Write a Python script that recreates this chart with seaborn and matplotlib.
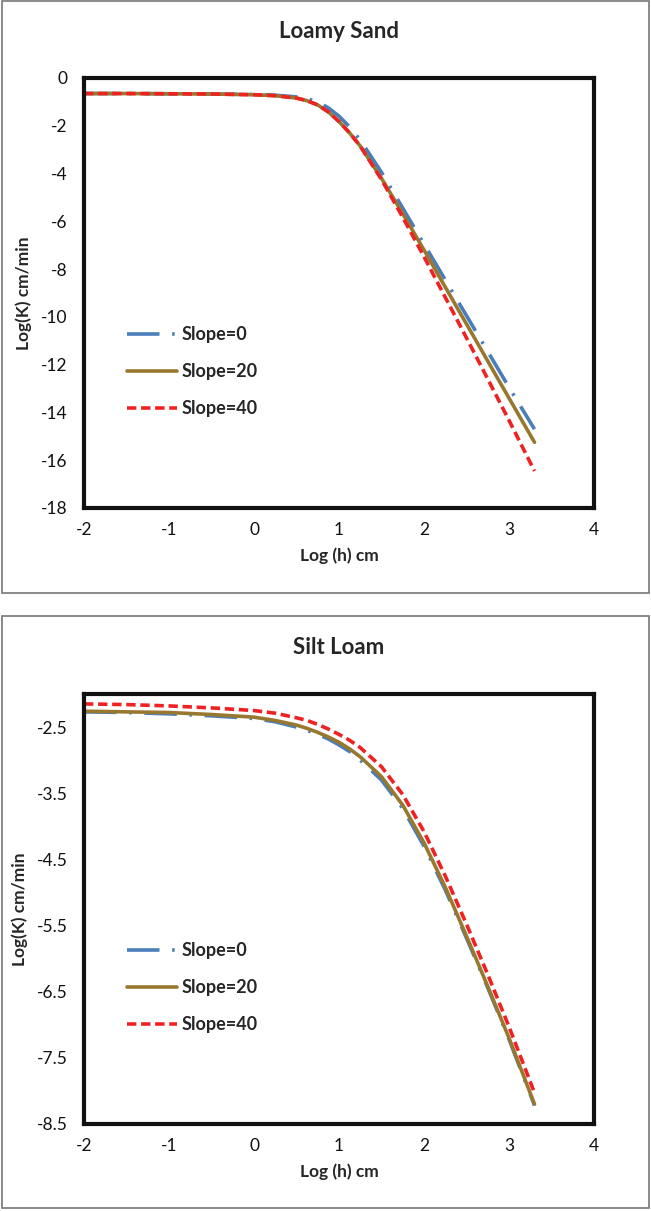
import numpy as np
import pandas as pd
import seaborn as sns
import matplotlib
matplotlib.use("Agg")
from matplotlib import pyplot as plt
from matplotlib.patches import Rectangle

# log(h) grid shared by both soils
log_h = [-2, -1.5, -1, -0.5, 0, 0.25, 0.5, 0.625, 0.75, 0.875, 1, 1.125, 1.25,
         1.5, 1.75, 2, 2.25, 2.5, 2.75, 3, 3.3]

# Loamy Sand, log(K) per slope
ls_slope0 = [-0.65, -0.65, -0.66, -0.67, -0.69, -0.72, -0.79, -0.87, -1.00, -1.25, -1.60, -2.05, -2.60,
             -3.95, -5.45, -6.95, -8.45, -9.95, -11.45, -12.95, -14.70]
ls_slope20 = [-0.65, -0.65, -0.66, -0.67, -0.70, -0.74, -0.84, -0.95, -1.13, -1.42, -1.82, -2.30, -2.85,
              -4.20, -5.68, -7.20, -8.75, -10.30, -11.85, -13.40, -15.25]
ls_slope40 = [-0.65, -0.65, -0.66, -0.67, -0.70, -0.74, -0.84, -0.95, -1.13, -1.42, -1.82, -2.30, -2.85,
              -4.25, -5.83, -7.48, -9.18, -10.88, -12.60, -14.33, -16.45]

# Silt Loam, log(K) per slope
sl_slope0 = [-2.27, -2.28, -2.30, -2.33, -2.37, -2.42, -2.50, -2.55, -2.61, -2.68, -2.77, -2.87, -3.00,
             -3.30, -3.73, -4.30, -4.96, -5.69, -6.44, -7.22, -8.22]
sl_slope20 = [-2.26, -2.27, -2.28, -2.31, -2.35, -2.40, -2.47, -2.52, -2.58, -2.65, -2.73, -2.83, -2.95,
              -3.25, -3.68, -4.25, -4.92, -5.66, -6.42, -7.20, -8.20]
sl_slope40 = [-2.15, -2.16, -2.18, -2.21, -2.25, -2.29, -2.36, -2.40, -2.46, -2.53, -2.61, -2.70, -2.81,
              -3.10, -3.52, -4.08, -4.75, -5.48, -6.24, -7.03, -8.03]

labels = ["Slope=0", "Slope=20", "Slope=40"]
colors = {"Slope=0": "#4A7EBB", "Slope=20": "#98782F", "Slope=40": "#EE2222"}
dashes = {"Slope=0": (9, 3.5, 0.7, 3.5), "Slope=20": "", "Slope=40": (2.6, 1.3)}

sns.set_style("white")
plt.rcParams['font.family'] = ['Lato', 'DejaVu Sans']
plt.rcParams['axes.unicode_minus'] = False

W, H = 651, 1211
fig = plt.figure(figsize=(W / 100, H / 100), dpi=100)

# panel frames (pixel boxes)
for (x0, y0, x1, y1) in [(2, 1, 649, 593), (2, 616, 649, 1208)]:
    fig.add_artist(Rectangle((x0 / W, 1 - y1 / H), (x1 - x0) / W, (y1 - y0) / H,
                             transform=fig.transFigure, fill=False,
                             edgecolor="#777777", lw=1.2))


def panel(top_px, title, series, ylim, yticks, ytick_labels):
    ax = fig.add_axes([84 / W, 1 - (top_px + 430) / H, 510 / W, 430 / H])
    df = pd.concat([pd.DataFrame({"h": log_h, "K": v, "s": lab})
                    for v, lab in zip(series, labels)])
    sns.lineplot(data=df, x="h", y="K", hue="s", style="s", palette=colors,
                 dashes=dashes, estimator=None, sort=True, lw=2.6, ax=ax)
    ax.set_xlim(-2, 4)
    ax.set_ylim(*ylim)
    ax.set_xticks([-2, -1, 0, 1, 2, 3, 4])
    ax.set_yticks(yticks)
    ax.set_yticklabels(ytick_labels)
    ax.tick_params(axis="both", length=0, labelsize=12.5, colors="#111111")
    ax.tick_params(axis="y", pad=12)
    ax.tick_params(axis="x", pad=10)
    for sp in ax.spines.values():
        sp.set_color("#111111")
        sp.set_linewidth(3)
    ax.set_xlabel("Log (h) cm", fontsize=12.5, fontweight="bold", labelpad=7)
    ax.set_ylabel("Log(K) cm/min", fontsize=12.5, fontweight="bold", labelpad=6)
    h, l = ax.get_legend_handles_labels()
    keep = [(a, b) for a, b in zip(h, l) if b in labels]
    ax.legend([k[0] for k in keep], [k[1] for k in keep], loc="upper left",
              bbox_to_anchor=(0.052, 0.46), frameon=False, handlelength=2.8,
              handletextpad=0.25, labelspacing=1.1,
              prop={"weight": "bold", "size": 13})
    fig.text(339 / W, 1 - (top_px - 47) / H, title, ha="center", va="center",
             fontsize=16, fontweight="bold")
    return ax


panel(78, "Loamy Sand", [ls_slope0, ls_slope20, ls_slope40], (-18, 0),
      list(range(-18, 1, 2)), [str(v) for v in range(-18, 1, 2)])

sl_ticks = [-8.5, -7.5, -6.5, -5.5, -4.5, -3.5, -2.5]
panel(694, "Silt Loam", [sl_slope0, sl_slope20, sl_slope40], (-8.5, -2.0),
      sl_ticks, [str(v) for v in sl_ticks])

fig.savefig("out.png", dpi=100)
